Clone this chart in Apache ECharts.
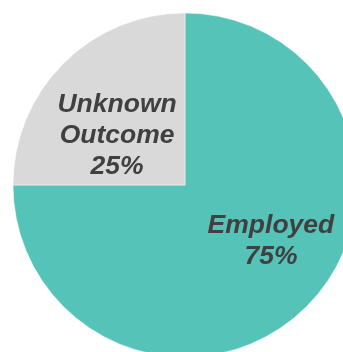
<!DOCTYPE html>
<html>
<head>
<meta charset="utf-8">
<style>
  html, body { margin: 0; padding: 0; background: #ffffff; }
  #chart { width: 343px; height: 352px; }
</style>
<script src="https://cdn.jsdelivr.net/npm/echarts@6/dist/echarts.min.js"></script>
</head>
<body>
<div id="chart"></div>
<script>
// Outcome shares (percent)
const categories = ['Employed', 'Unknown Outcome'];
const shares = [75, 25];
const sliceColors = ['#55C3B8', '#D9D9D9'];
// Nudges for the inside labels, per slice
const labelOffsets = [[23, -7], [-5, 14]];

const chart = echarts.init(document.getElementById('chart'), null, { renderer: 'canvas' });

const data = categories.map((name, i) => ({
  name: name,
  value: shares[i],
  itemStyle: { color: sliceColors[i] },
  label: { offset: labelOffsets[i] }
}));

chart.setOption({
  animation: false,
  backgroundColor: '#ffffff',
  series: [{
    type: 'pie',
    center: [185, 185],
    radius: 172,
    startAngle: 90,
    clockwise: true,
    silent: true,
    itemStyle: { borderColor: '#ffffff', borderWidth: 0.5 },
    label: {
      show: true,
      position: 'inside',
      formatter: p => p.name.replace(' ', '\n') + '\n' + p.value + '%',
      color: '#404040',
      fontFamily: 'Liberation Sans, Arial, sans-serif',
      fontSize: 26.5,
      fontWeight: 'bold',
      fontStyle: 'italic',
      lineHeight: 31,
      align: 'center'
    },
    labelLine: { show: false },
    data: data
  }]
});
</script>
</body>
</html>
